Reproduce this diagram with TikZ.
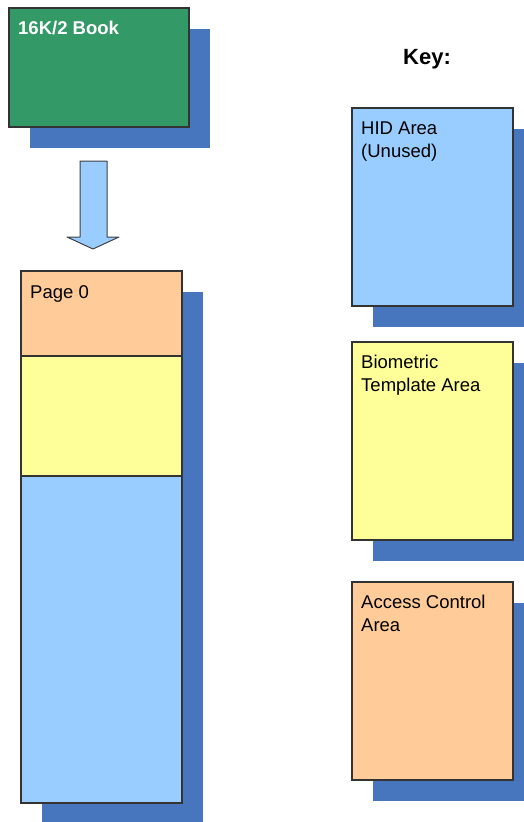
\documentclass[tikz,border=0pt]{standalone}
\usepackage{fontspec}
\setmainfont{Liberation Sans}
\usetikzlibrary{positioning,shadows}
\definecolor{bookgreen}{RGB}{51,153,102}
\definecolor{shadowblue}{RGB}{72,118,190}
\definecolor{hidblue}{RGB}{153,204,255}
\definecolor{bioyellow}{RGB}{255,255,153}
\definecolor{accorange}{RGB}{255,204,153}

\begin{document}
\begin{tikzpicture}[x=1pt, y=-1pt,
	area/.style={draw=black!80, line width=1.2pt, anchor=north west, inner sep=0pt, outer sep=0pt, minimum width=161pt,
		drop shadow={shadow xshift=21pt, shadow yshift=-21pt, fill=shadowblue, opacity=1, draw=none}},
	lbl/.style={anchor=north west, inner sep=0pt, align=left, font=\fontsize{18.5}{22.5}\selectfont}]
	\useasboundingbox (0,0) rectangle (524,822);
	\clip (0,0) rectangle (524,822);
	\node[area, fill=bookgreen, minimum width=180pt, minimum height=119pt] (book) at (9,8) {};
	\node[area, fill=accorange, minimum height=85pt] (page0) at (21,271) {};
	\node[area, fill=bioyellow, minimum height=120pt, below=0pt of page0] (colbio) {};
	\node[area, fill=hidblue, minimum height=327pt, below=0pt of colbio] (colhid) {};
	\node[area, fill=hidblue, minimum height=198pt] (keyhid) at (352,108) {};
	\node[area, fill=bioyellow, minimum height=198pt] (keybio) at (352,342) {};
	\node[area, fill=accorange, minimum height=198pt] (keyacc) at (352,582) {};
	\fill[hidblue, draw=black!75, line width=1pt, line join=round]
		(80,161) -- (107,161) -- (107,237) -- (119,237) -- (93,249) -- (67,237) -- (80,237) -- cycle;
	\node[lbl, text=white, font=\fontsize{18.5}{22.5}\selectfont\bfseries] (booktxt) at ([shift={(9,13)}]book.north west) {16K/2 Book};
	\node[lbl] (page0txt) at ([shift={(9,14)}]page0.north west) {Page 0};
	\node[lbl] (keyhidtxt) at ([shift={(9,14)}]keyhid.north west) {HID Area\\(Unused)};
	\node[lbl] (keybiotxt) at ([shift={(9,13)}]keybio.north west) {Biometric\\Template Area};
	\node[lbl] (keyacctxt) at ([shift={(9,13)}]keyacc.north west) {Access Control\\Area};
	\node[inner sep=0pt, font=\fontsize{22}{26}\selectfont\bfseries] (keytitle) at (427,59) {Key:};
\end{tikzpicture}
\end{document}
